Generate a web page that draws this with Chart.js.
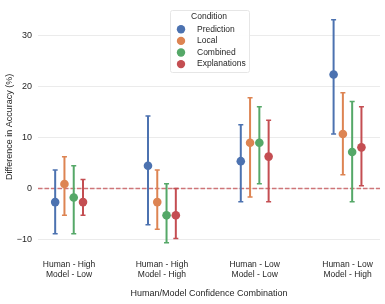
<!DOCTYPE html>
<html>
<head>
<meta charset="utf-8">
<script src="https://cdn.jsdelivr.net/npm/chart.js@4/dist/chart.umd.min.js"></script>
<style>
  html, body { margin: 0; padding: 0; background: #fff; }
  #wrap { width: 385px; height: 304px; }
</style>
</head>
<body>
<div id="wrap"><canvas id="myChart" width="385" height="304"></canvas></div>
<script>
const categories = [
    ['Human - High', 'Model - Low'],
    ['Human - High', 'Model - High'],
    ['Human - Low', 'Model - Low'],
    ['Human - Low', 'Model - High']
];
const conditions = ['Prediction', 'Local', 'Combined', 'Explanations'];
const colors = ['#4C72B0', '#DD8452', '#55A868', '#C44E52'];

// point estimates and 95% interval ends, per category
const prediction = [-2.7, 4.45, 5.35, 22.4];
const predictionLow = [-8.9, -7.15, -2.65, 10.7];
const predictionHigh = [3.6, 14.25, 12.5, 33.15];

const local = [0.85, -2.7, 8.97, 10.7];
const localLow = [-5.3, -8.05, -1.7, 2.7];
const localHigh = [6.2, 3.6, 17.8, 18.8];

const combined = [-1.8, -5.3, 8.97, 7.15];
const combinedLow = [-8.9, -10.7, 0.9, -2.65];
const combinedHigh = [4.45, 0.9, 16.05, 17.1];

const explanations = [-2.7, -5.3, 6.25, 8.07];
const explanationsLow = [-5.3, -9.85, -2.65, 0.5];
const explanationsHigh = [1.75, 0, 13.4, 16.05];

const yTicks = [-10, 0, 10, 20, 30];

const means = [prediction, local, combined, explanations];
const lows = [predictionLow, localLow, combinedLow, explanationsLow];
const highs = [predictionHigh, localHigh, combinedHigh, explanationsHigh];

const dodge = [-0.15, -0.05, 0.05, 0.15];
const textColor = '#262626';
const fontFamily = '"Liberation Sans", Arial, sans-serif';

const datasets = conditions.map((name, i) => ({
    label: name,
    data: means[i].map((v, j) => ({x: j + dodge[i], y: v})),
    backgroundColor: colors[i],
    borderColor: colors[i],
    pointRadius: 4.3,
    pointBorderWidth: 0,
    showLine: false
}));

// dashed zero line + error bars, drawn under the points
const errorBars = {
    id: 'errorBars',
    beforeDatasetsDraw(chart) {
        const {ctx, scales: {x, y}, chartArea} = chart;
        ctx.save();
        ctx.strokeStyle = 'rgba(196,78,82,0.75)';
        ctx.lineWidth = 1.5;
        ctx.setLineDash([4.5, 2]);
        ctx.beginPath();
        ctx.moveTo(chartArea.left, y.getPixelForValue(0));
        ctx.lineTo(chartArea.right, y.getPixelForValue(0));
        ctx.stroke();
        ctx.setLineDash([]);

        conditions.forEach((name, i) => {
            ctx.strokeStyle = colors[i];
            means[i].forEach((v, j) => {
                const px = x.getPixelForValue(j + dodge[i]);
                const top = y.getPixelForValue(highs[i][j]);
                const bot = y.getPixelForValue(lows[i][j]);
                ctx.lineWidth = 2;
                ctx.beginPath();
                ctx.moveTo(px, top);
                ctx.lineTo(px, bot);
                ctx.stroke();
                ctx.lineWidth = 1.5;
                ctx.beginPath();
                ctx.moveTo(px - 2.5, top);
                ctx.lineTo(px + 2.5, top);
                ctx.moveTo(px - 2.5, bot);
                ctx.lineTo(px + 2.5, bot);
                ctx.stroke();
            });
        });
        ctx.restore();
    }
};

// boxed legend with title, inside the plot
const boxLegend = {
    id: 'boxLegend',
    afterDatasetsDraw(chart) {
        const {ctx} = chart;
        const bx = 170, by = 10, bw = 79, bh = 62;
        ctx.save();
        ctx.fillStyle = 'rgba(255,255,255,0.95)';
        ctx.strokeStyle = '#e6e6e6';
        ctx.lineWidth = 1;
        ctx.beginPath();
        ctx.roundRect(bx + 0.5, by + 0.5, bw, bh, 2);
        ctx.fill();
        ctx.stroke();

        ctx.fillStyle = textColor;
        ctx.font = '8.5px ' + fontFamily;
        ctx.textBaseline = 'middle';
        ctx.textAlign = 'center';
        ctx.fillText('Condition', bx + 39, by + 6.5);
        ctx.textAlign = 'left';
        conditions.forEach((name, i) => {
            const cy = by + 19.3 + i * 11.6;
            ctx.fillStyle = colors[i];
            ctx.beginPath();
            ctx.arc(bx + 11, cy, 4.2, 0, Math.PI * 2);
            ctx.fill();
            ctx.fillStyle = textColor;
            ctx.fillText(name, bx + 27, cy);
        });
        ctx.restore();
    }
};

const ctx = document.getElementById('myChart').getContext('2d');
new Chart(ctx, {
    type: 'scatter',
    data: {datasets: datasets},
    options: {
        responsive: false,
        animation: false,
        layout: {padding: {top: 0, right: 5, left: 0, bottom: 0}},
        plugins: {
            legend: {display: false},
            tooltip: {enabled: false}
        },
        scales: {
            x: {
                type: 'linear',
                min: -0.335,
                max: 3.35,
                afterBuildTicks: (scale) => {
                    scale.ticks = categories.map((c, i) => ({value: i}));
                },
                afterFit: (scale) => {
                    scale.height = 54.6;
                    scale.paddingLeft = 0;
                    scale.paddingRight = 0;
                },
                ticks: {
                    callback: (value) => categories[value],
                    color: textColor,
                    font: {family: fontFamily, size: 8.5, lineHeight: 1.1},
                    padding: 3,
                    maxRotation: 0,
                    autoSkip: false
                },
                grid: {display: false},
                border: {display: false},
                title: {
                    display: true,
                    text: 'Human/Model Confidence Combination',
                    color: textColor,
                    font: {family: fontFamily, size: 9},
                    padding: {top: 0, bottom: 5}
                }
            },
            y: {
                min: -12,
                max: 36.2,
                afterBuildTicks: (scale) => {
                    scale.ticks = yTicks.map(v => ({value: v}));
                },
                afterFit: (scale) => {
                    scale.width = 38;
                    scale.paddingTop = 0;
                    scale.paddingBottom = 0;
                },
                ticks: {
                    callback: (value) => value < 0 ? '\u2212' + Math.abs(value) : String(value),
                    color: textColor,
                    font: {family: fontFamily, size: 9},
                    padding: 6
                },
                grid: {color: '#ebebeb', lineWidth: 1, drawTicks: false},
                border: {display: false},
                title: {
                    display: true,
                    text: 'Difference in Accuracy (%)',
                    color: textColor,
                    font: {family: fontFamily, size: 9},
                    padding: {top: 4, bottom: 0}
                }
            }
        }
    },
    plugins: [errorBars, boxLegend]
});
</script>
</body>
</html>
